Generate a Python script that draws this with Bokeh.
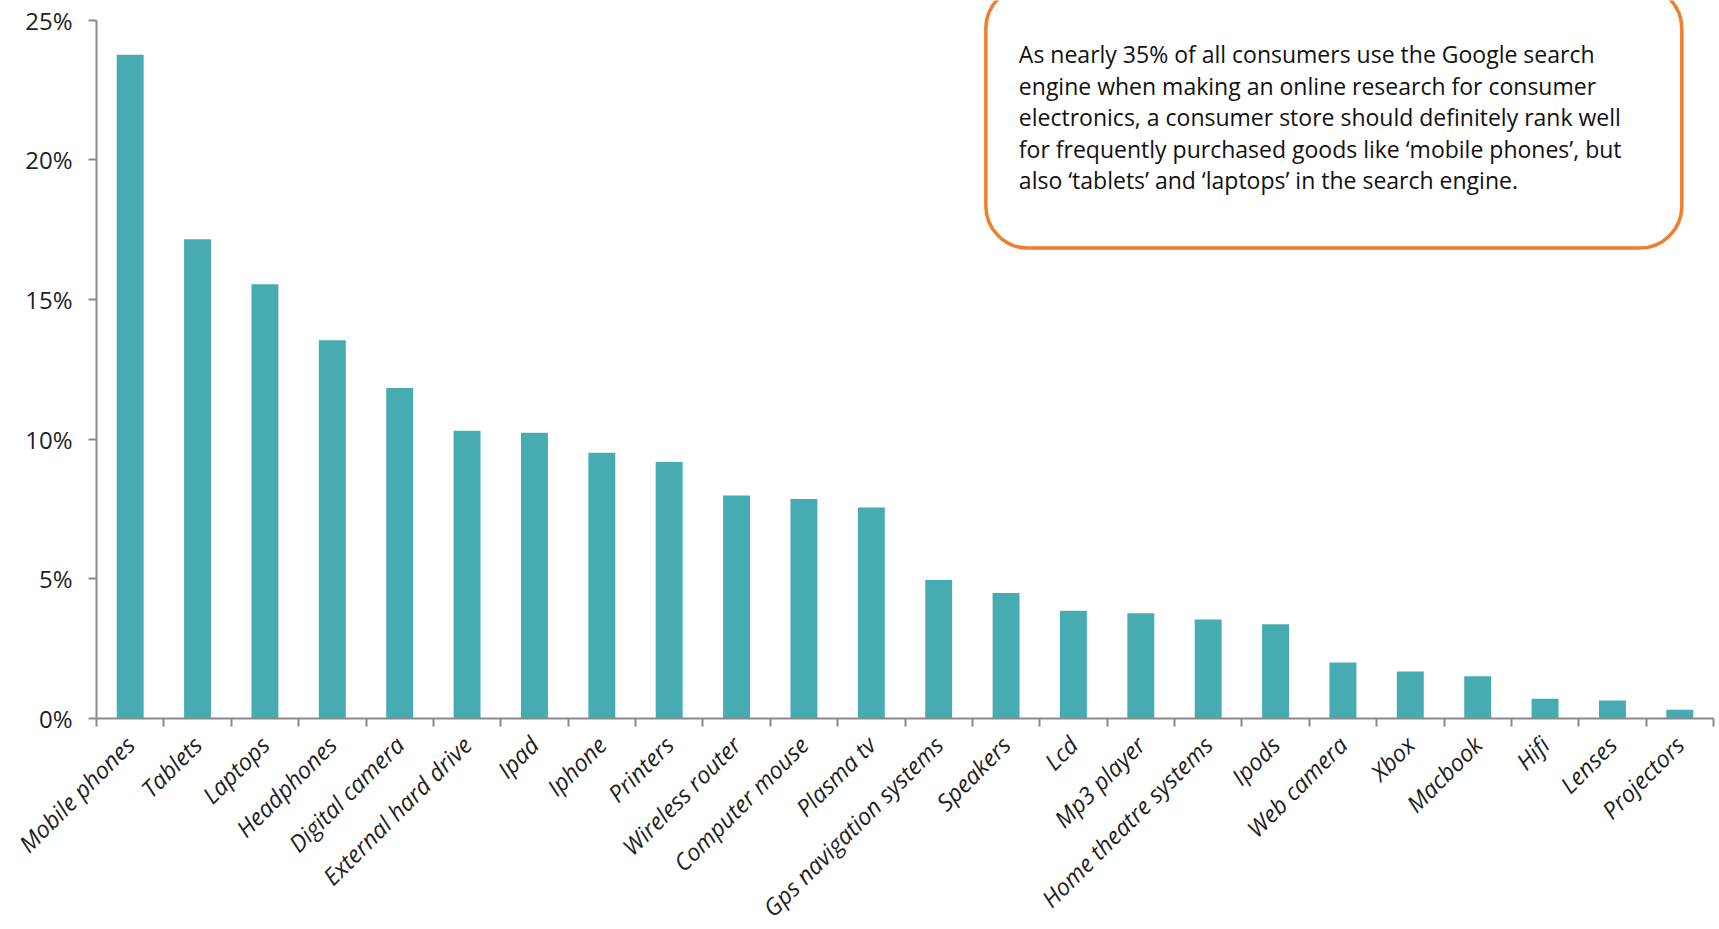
from bokeh.plotting import figure
from bokeh.models import (ColumnDataSource, Range1d, FixedTicker, NumeralTickFormatter,
                          BoxAnnotation, Label)
from bokeh.embed import file_html
from bokeh.resources import INLINE

# ---- data ----
categories = ["Mobile phones", "Tablets", "Laptops", "Headphones", "Digital camera",
              "External hard drive", "Ipad", "Iphone", "Printers", "Wireless router",
              "Computer mouse", "Plasma tv", "Gps navigation systems", "Speakers", "Lcd",
              "Mp3 player", "Home theatre systems", "Ipods", "Web camera", "Xbox",
              "Macbook", "Hifi", "Lenses", "Projectors"]
shares = [0.2376, 0.1715, 0.1554, 0.1354, 0.1183,
          0.1030, 0.1023, 0.0951, 0.0918, 0.0798,
          0.0786, 0.0755, 0.0496, 0.0449, 0.0386,
          0.0377, 0.0354, 0.0337, 0.0200, 0.0168,
          0.0151, 0.0071, 0.0064, 0.0031]
y_ticks = [0, 0.05, 0.10, 0.15, 0.20, 0.25]
note = ("As nearly 35% of all consumers use the Google search\n"
        "engine when making an online research for consumer\n"
        "electronics, a consumer store should definitely rank well\n"
        "for frequently purchased goods like \u2018mobile phones\u2019, but\n"
        "also \u2018tablets\u2019 and \u2018laptops\u2019 in the search engine.")

n = len(categories)
xs = list(range(n))
src = ColumnDataSource(dict(x=xs, top=shares, name=categories))

AXIS = "#898989"
TEXT = "#1f1f1f"

p = figure(frame_width=1617, frame_height=718, output_backend="svg", toolbar_location=None,
           x_range=Range1d(-0.5, n - 0.5), y_range=Range1d(0, 0.2570),
           min_border_left=96, min_border_right=6, min_border_top=0, min_border_bottom=0,
           title=None)
p.outline_line_color = None
p.background_fill_color = "white"
p.border_fill_color = "white"
p.xgrid.visible = False
p.ygrid.visible = False

p.vbar(x="x", top="top", width=0.4, bottom=0, source=src,
       fill_color="#47ACB1", line_color=None)

# x axis
xa = p.xaxis[0]
xa.ticker = FixedTicker(ticks=xs, minor_ticks=[i - 0.5 for i in range(n + 1)])
xa.major_label_overrides = {i: c for i, c in zip(xs, categories)}
xa.major_tick_line_color = None
xa.minor_tick_line_color = AXIS
xa.minor_tick_line_width = 2
xa.minor_tick_out = 8
xa.minor_tick_in = 0
xa.axis_line_color = AXIS
xa.axis_line_width = 2
xa.major_label_orientation = 0.785398
xa.major_label_text_font = "Open Sans"
xa.major_label_text_font_style = "italic"
xa.major_label_text_font_size = "23.5px"
xa.major_label_text_color = TEXT
xa.major_label_standoff = 14

# y axis
ya = p.yaxis[0]
ya.ticker = FixedTicker(ticks=y_ticks)
ya.formatter = NumeralTickFormatter(format="0%")
ya.bounds = (0, 0.25)
ya.axis_line_color = AXIS
ya.axis_line_width = 2
ya.major_tick_line_color = AXIS
ya.major_tick_line_width = 2
ya.major_tick_out = 8
ya.major_tick_in = 0
ya.minor_tick_line_color = None
ya.major_label_text_font = "Open Sans"
ya.major_label_text_font_size = "24px"
ya.major_label_text_color = TEXT
ya.major_label_standoff = 16

# annotation box
box = BoxAnnotation(left=12.70, right=23.03, bottom=0.1684, top=0.2620,
                    fill_color="white", fill_alpha=1.0,
                    line_color="#F07F2C", line_alpha=1.0, line_width=3.5, border_radius=42)
p.add_layout(box)
lab = Label(x=13.19, y=0.2435, text=note, text_font="Open Sans", text_font_size="23px",
            text_color="#111111", text_align="left", text_baseline="top",
            text_line_height=0.985)
p.add_layout(lab)

open("out.html", "w").write(file_html(p, INLINE))
